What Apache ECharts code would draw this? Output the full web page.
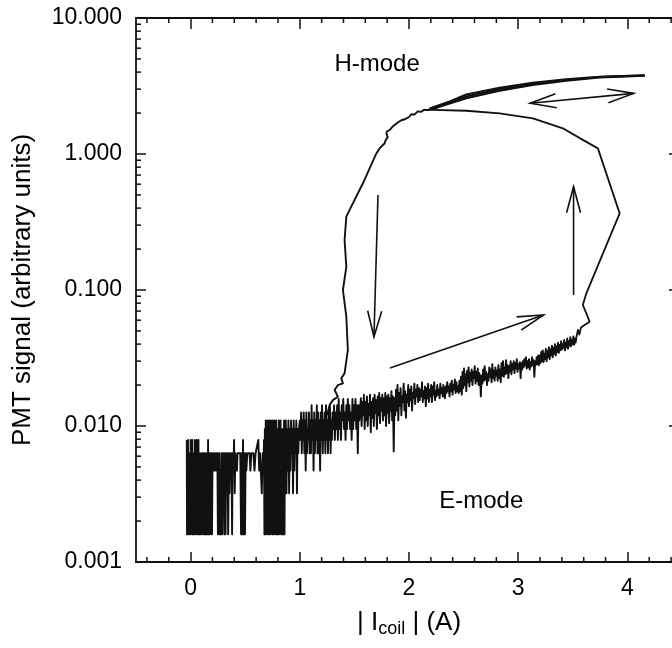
<!DOCTYPE html>
<html>
<head>
<meta charset="utf-8">
<script src="https://cdn.jsdelivr.net/npm/echarts@6/dist/echarts.min.js"></script>
<style>
  html, body { margin: 0; padding: 0; background: #fff; overflow: hidden; }
  #chart { width: 672px; height: 648px; }
</style>
</head>
<body>
<div id="chart"></div>
<script>
// Axis ticks
const xMajorTicks = [0, 1, 2, 3, 4];
const xMinorTicks = [-0.4, -0.2, 0.2, 0.4, 0.6, 0.8, 1.2, 1.4, 1.6, 1.8, 2.2, 2.4, 2.6, 2.8, 3.2, 3.4, 3.6, 3.8, 4.2, 4.4];
const yMajorTicks = [0.001, 0.01, 0.1, 1, 10];
const yMinorTicks = [0.002, 0.003, 0.004, 0.005, 0.006, 0.007, 0.008, 0.009,
                     0.02, 0.03, 0.04, 0.05, 0.06, 0.07, 0.08, 0.09,
                     0.2, 0.3, 0.4, 0.5, 0.6, 0.7, 0.8, 0.9,
                     2, 3, 4, 5, 6, 7, 8, 9];

// E-mode signal while the coil current ramps up: [|Icoil| (A), PMT signal]
const eModeTrace = [
  [-0.035,0.0079],[-0.033,0.0016],[-0.030,0.0063],[-0.027,0.0016],[-0.024,0.0079],[-0.020,0.0016],[-0.016,0.0047],[-0.012,0.0016],
  [-0.008,0.0063],[-0.004,0.0016],[0.000,0.0079],[0.004,0.0032],[0.008,0.0063],[0.012,0.0016],[0.016,0.0079],[0.020,0.0016],
  [0.024,0.0047],[0.028,0.0016],[0.032,0.0063],[0.036,0.0016],[0.040,0.0079],[0.044,0.0016],[0.048,0.0063],[0.052,0.0032],
  [0.056,0.0079],[0.060,0.0016],[0.064,0.0063],[0.068,0.0016],[0.072,0.0079],[0.076,0.0016],[0.080,0.0063],[0.084,0.0016],
  [0.088,0.0047],[0.092,0.0016],[0.096,0.0063],[0.100,0.0016],[0.104,0.0063],[0.108,0.0032],[0.112,0.0063],[0.116,0.0016],
  [0.120,0.0063],[0.124,0.0016],[0.128,0.0063],[0.132,0.0016],[0.136,0.0047],[0.140,0.0016],[0.144,0.0063],[0.148,0.0016],
  [0.152,0.0063],[0.156,0.0016],[0.160,0.0079],[0.164,0.0016],[0.168,0.0063],[0.172,0.0016],[0.176,0.0063],[0.180,0.0032],
  [0.184,0.0063],[0.188,0.0016],[0.192,0.0063],[0.196,0.0016],[0.200,0.0047],
  [0.205,0.0063],[0.212,0.0047],[0.218,0.0063],[0.225,0.0047],[0.232,0.0063],[0.240,0.0047],[0.245,0.0063],
  [0.250,0.0016],[0.255,0.0063],[0.260,0.0016],[0.265,0.0063],[0.270,0.0016],[0.275,0.0047],[0.280,0.0016],[0.285,0.0063],
  [0.290,0.0016],[0.295,0.0063],[0.300,0.0032],[0.305,0.0063],[0.310,0.0016],[0.315,0.0063],[0.320,0.0016],[0.326,0.0063],
  [0.332,0.0047],[0.338,0.0063],[0.344,0.0016],[0.350,0.0063],[0.356,0.0032],[0.362,0.0063],[0.368,0.0047],[0.374,0.0063],
  [0.380,0.0016],
  [0.385,0.0063],[0.392,0.0047],[0.398,0.0079],[0.404,0.0032],[0.410,0.0063],[0.418,0.0063],[0.424,0.0047],[0.430,0.0063],
  [0.440,0.0063],[0.455,0.0063],[0.462,0.0016],[0.468,0.0063],[0.474,0.0016],[0.480,0.0079],[0.486,0.0016],[0.492,0.0063],
  [0.498,0.0016],[0.504,0.0063],[0.510,0.0047],[0.520,0.0063],[0.540,0.0063],[0.548,0.0047],[0.556,0.0063],[0.575,0.0063],
  [0.585,0.0047],[0.595,0.0063],[0.610,0.0063],[0.620,0.0079],[0.628,0.0047],[0.636,0.0063],[0.645,0.0063],[0.652,0.0032],
  [0.660,0.0063],[0.668,0.0047],
  [0.672,0.0079],[0.676,0.0016],[0.680,0.0095],[0.684,0.0016],[0.688,0.0110],[0.692,0.0016],[0.696,0.0095],[0.700,0.0032],
  [0.704,0.0110],[0.708,0.0016],[0.712,0.0095],[0.716,0.0016],[0.720,0.0110],[0.724,0.0016],[0.728,0.0079],[0.732,0.0016],
  [0.736,0.0110],[0.740,0.0032],[0.744,0.0095],[0.748,0.0016],[0.752,0.0110],[0.756,0.0016],[0.760,0.0095],[0.764,0.0016],
  [0.768,0.0110],[0.772,0.0047],[0.776,0.0095],[0.780,0.0016],[0.784,0.0110],[0.788,0.0016],[0.792,0.0079],[0.796,0.0016],
  [0.800,0.0095],[0.804,0.0016],[0.808,0.0110],[0.812,0.0016],[0.816,0.0095],[0.820,0.0032],[0.824,0.0110],[0.828,0.0016],
  [0.832,0.0095],[0.836,0.0016],[0.840,0.0079],[0.844,0.0016],[0.848,0.0095],[0.852,0.0016],[0.856,0.0110],[0.860,0.0016],
  [0.864,0.0095],[0.868,0.0032],
  [0.872,0.0110],[0.878,0.0032],[0.884,0.0095],[0.890,0.0047],[0.896,0.0110],[0.902,0.0032],[0.908,0.0095],[0.914,0.0047],
  [0.920,0.0110],[0.926,0.0063],[0.932,0.0095],[0.938,0.0032],[0.944,0.0110],[0.950,0.0047],[0.956,0.0095],[0.962,0.0063],
  [0.968,0.0110],[0.974,0.0032],[0.980,0.0095],[0.986,0.0063],[0.992,0.0095],
  [1.000,0.0110],[1.006,0.0079],[1.012,0.0126],[1.018,0.0063],[1.024,0.0110],[1.030,0.0079],[1.036,0.0126],[1.042,0.0063],
  [1.048,0.0110],[1.054,0.0047],[1.060,0.0126],[1.066,0.0063],[1.072,0.0095],[1.078,0.0079],[1.084,0.0126],[1.090,0.0063],
  [1.096,0.0110],[1.102,0.0063],[1.108,0.0142],[1.114,0.0079],[1.120,0.0110],[1.126,0.0047],[1.132,0.0126],[1.138,0.0063],
  [1.144,0.0110],[1.150,0.0079],[1.156,0.0142],[1.162,0.0063],[1.168,0.0126],[1.174,0.0063],[1.180,0.0110],[1.186,0.0047],
  [1.192,0.0126],[1.198,0.0079],[1.204,0.0142],[1.210,0.0063],[1.216,0.0110],[1.222,0.0079],[1.228,0.0126],[1.234,0.0063],
  [1.240,0.0142],[1.246,0.0079],[1.252,0.0110],[1.258,0.0063],[1.264,0.0126],[1.270,0.0079],[1.276,0.0142],[1.282,0.0063],
  [1.288,0.0110],[1.294,0.0079],
  [1.300,0.0126],[1.307,0.0095],[1.314,0.0142],[1.321,0.0079],[1.328,0.0126],[1.335,0.0095],[1.342,0.0142],[1.349,0.0079],
  [1.356,0.0158],[1.363,0.0095],[1.370,0.0126],[1.377,0.0079],[1.384,0.0142],[1.391,0.0110],[1.398,0.0158],[1.405,0.0095],
  [1.412,0.0126],[1.419,0.0079],[1.426,0.0142],[1.433,0.0095],[1.440,0.0158],[1.447,0.0110],[1.454,0.0142],[1.461,0.0095],
  [1.468,0.0126],[1.475,0.0079],[1.482,0.0158],[1.489,0.0095],[1.496,0.0142],[1.503,0.0110],[1.510,0.0158],[1.517,0.0095],
  [1.524,0.0142],[1.531,0.0063],[1.538,0.0142],[1.545,0.0110],
  [1.552,0.0110],[1.559,0.0160],[1.566,0.0100],[1.573,0.0150],[1.580,0.0120],[1.587,0.0170],[1.594,0.0095],[1.601,0.0150],
  [1.608,0.0110],[1.615,0.0165],[1.622,0.0100],[1.629,0.0145],[1.636,0.0120],[1.643,0.0170],[1.650,0.0090],[1.657,0.0150],
  [1.664,0.0115],[1.671,0.0160],[1.678,0.0100],[1.685,0.0170],[1.692,0.0125],[1.699,0.0155],[1.706,0.0095],[1.713,0.0165],
  [1.720,0.0120],[1.727,0.0175],[1.734,0.0105],[1.741,0.0160],[1.748,0.0130],[1.755,0.0170],[1.762,0.0110],[1.769,0.0160],
  [1.776,0.0120],[1.783,0.0175],[1.790,0.0100],[1.797,0.0165],[1.804,0.0125],[1.811,0.0170],[1.818,0.0105],[1.825,0.0160],
  [1.832,0.0130],[1.839,0.0180],[1.846,0.0110],[1.853,0.0165],[1.860,0.0065],[1.867,0.0160],
  [1.874,0.0120],[1.881,0.0185],[1.888,0.0130],[1.895,0.0200],[1.902,0.0110],[1.909,0.0175],[1.916,0.0140],[1.923,0.0190],
  [1.930,0.0120],[1.937,0.0165],[1.944,0.0150],[1.951,0.0205],[1.958,0.0130],[1.965,0.0180],[1.972,0.0115],[1.979,0.0170],
  [1.986,0.0150],[1.993,0.0200],[2.000,0.0140],[2.007,0.0185],[2.014,0.0155],[2.021,0.0195],[2.028,0.0130],[2.035,0.0175],
  [2.042,0.0160],[2.049,0.0205],[2.056,0.0145],[2.063,0.0185],[2.070,0.0165],[2.077,0.0200],[2.084,0.0150],[2.091,0.0190],
  [2.098,0.0155],[2.105,0.0185],[2.112,0.0165],[2.119,0.0210],[2.126,0.0150],[2.133,0.0180],[2.140,0.0160],[2.147,0.0195],
  [2.154,0.0140],[2.161,0.0190],[2.168,0.0160],[2.175,0.0205],[2.182,0.0150],[2.189,0.0185],[2.196,0.0165],[2.203,0.0200],
  [2.210,0.0150],[2.217,0.0195],[2.224,0.0170],[2.231,0.0210],[2.238,0.0155],[2.245,0.0180],[2.252,0.0165],[2.259,0.0200],
  [2.266,0.0170],[2.273,0.0185],[2.280,0.0160],[2.287,0.0205],[2.294,0.0175],[2.301,0.0190],[2.308,0.0165],[2.315,0.0200],
  [2.322,0.0170],[2.329,0.0160],[2.336,0.0195],[2.343,0.0175],[2.350,0.0210],[2.357,0.0180],[2.364,0.0195],[2.371,0.0165],
  [2.378,0.0205],[2.385,0.0180],[2.392,0.0215],[2.399,0.0170],[2.406,0.0200],[2.413,0.0185],[2.420,0.0220],[2.427,0.0175],
  [2.434,0.0210],[2.441,0.0180],[2.448,0.0195],
  [2.455,0.0175],[2.462,0.0215],[2.469,0.0180],[2.476,0.0230],[2.483,0.0170],[2.490,0.0250],[2.497,0.0190],[2.504,0.0265],
  [2.511,0.0200],[2.518,0.0240],[2.525,0.0180],[2.532,0.0255],[2.539,0.0210],[2.546,0.0270],[2.553,0.0195],[2.560,0.0245],
  [2.567,0.0215],[2.574,0.0260],[2.581,0.0200],[2.588,0.0250],[2.595,0.0225],[2.602,0.0275],[2.609,0.0205],[2.616,0.0250],
  [2.623,0.0215],[2.630,0.0265],[2.637,0.0200],[2.644,0.0245],[2.651,0.0225],[2.658,0.0165],[2.665,0.0235],[2.672,0.0205],
  [2.679,0.0260],[2.686,0.0215],[2.693,0.0275],[2.700,0.0220],[2.707,0.0250],[2.714,0.0200],[2.721,0.0240],[2.728,0.0215],
  [2.735,0.0270],[2.742,0.0230],[2.749,0.0260],[2.756,0.0210],[2.763,0.0285],[2.770,0.0225],[2.777,0.0255],[2.784,0.0215],
  [2.791,0.0270],[2.798,0.0235],
  [2.805,0.0255],[2.812,0.0215],[2.819,0.0280],[2.826,0.0225],[2.833,0.0260],[2.840,0.0210],[2.847,0.0290],[2.854,0.0235],
  [2.861,0.0300],[2.868,0.0230],[2.875,0.0270],[2.882,0.0240],[2.889,0.0305],[2.896,0.0245],[2.903,0.0280],[2.910,0.0225],
  [2.917,0.0275],[2.924,0.0250],[2.931,0.0300],[2.938,0.0240],[2.945,0.0285],[2.952,0.0260],[2.959,0.0300],[2.966,0.0245],
  [2.973,0.0290],[2.980,0.0265],[2.987,0.0310],[2.994,0.0250],[3.001,0.0285],[3.008,0.0265],[3.015,0.0295],[3.022,0.0225],
  [3.029,0.0290],[3.036,0.0260],[3.043,0.0300],[3.050,0.0270],[3.057,0.0310],[3.064,0.0280],[3.071,0.0320],[3.078,0.0265],
  [3.085,0.0300],[3.092,0.0270],[3.099,0.0310],[3.106,0.0260],[3.113,0.0295],[3.120,0.0275],[3.127,0.0320],[3.134,0.0280],
  [3.141,0.0305],[3.148,0.0230],[3.155,0.0300],[3.162,0.0280],[3.169,0.0320],[3.176,0.0285],[3.183,0.0330],[3.190,0.0280],
  [3.197,0.0330],[3.204,0.0290],[3.211,0.0350],[3.218,0.0300],[3.225,0.0360],[3.232,0.0295],[3.239,0.0340],[3.246,0.0310],
  [3.253,0.0370],[3.260,0.0300],[3.267,0.0355],[3.274,0.0320],[3.281,0.0380],[3.288,0.0310],[3.295,0.0365],[3.302,0.0330],
  [3.309,0.0390],[3.316,0.0320],[3.323,0.0375],[3.330,0.0340],[3.337,0.0400],[3.344,0.0330],[3.351,0.0385],[3.358,0.0350],
  [3.365,0.0410],[3.372,0.0345],[3.379,0.0395],[3.386,0.0360],[3.393,0.0420],[3.400,0.0365],[3.407,0.0400],[3.414,0.0375],
  [3.421,0.0430],[3.428,0.0360],[3.435,0.0410],[3.442,0.0380],[3.449,0.0440],[3.456,0.0370],[3.463,0.0420],[3.470,0.0390],
  [3.477,0.0450],[3.484,0.0385],[3.491,0.0430],[3.498,0.0400],[3.505,0.0455],[3.512,0.0395],[3.519,0.0440],[3.526,0.0410],
  [3.533,0.0450]
];

// E -> H transition and the upper return curve
const transitionTrace = [
  [3.533,0.0450],[3.547,0.0508],[3.560,0.0470],[3.575,0.0530],[3.608,0.0553],[3.654,0.0585],[3.624,0.0674],[3.592,0.0776],
  [3.624,0.0946],[3.929,0.366],[3.730,1.10],[3.592,1.27],[3.409,1.545],[3.135,1.83],[2.830,1.99],[2.525,2.08],
  [2.219,2.11],[2.143,2.11]
];

// H-mode branch, traced several times (outer, middle and inner passes)
const hBranchOuter = [[2.189,2.16],[2.372,2.43],[2.525,2.74],[2.830,3.07],[3.132,3.34],[3.440,3.54],[3.745,3.70],[4.158,3.79]];
const hBranchMid   = [[2.200,2.15],[2.372,2.39],[2.525,2.65],[2.830,2.99],[3.132,3.28],[3.440,3.50],[3.745,3.68],[4.158,3.78]];
const hBranchInner = [[2.216,2.14],[2.372,2.35],[2.525,2.57],[2.830,2.92],[3.132,3.22],[3.440,3.46],[3.745,3.66],[4.158,3.76]];

// H -> E collapse while the current ramps down
const collapseTrace = [
  [2.30,2.26],[2.26,2.22],[2.235,2.16],[2.20,2.15],[2.17,2.10],[2.14,2.12],[2.11,2.04],[2.08,2.06],[2.05,1.95],[2.02,1.96],
  [2.00,1.87],[1.96,1.80],[1.93,1.77],[1.90,1.71],[1.884,1.68],[1.85,1.59],[1.822,1.50],[1.80,1.47],[1.792,1.42],[1.805,1.33],
  [1.785,1.26],[1.777,1.20],[1.731,1.10],[1.701,1.01],[1.578,0.609],[1.456,0.388],[1.426,0.346],[1.410,0.233],[1.426,0.148],
  [1.395,0.100],[1.426,0.0636],[1.440,0.0362],[1.410,0.0244],[1.380,0.0224],[1.395,0.0206],[1.349,0.0200],[1.319,0.0184],
  [1.349,0.0164],[1.303,0.0155],[1.273,0.0143],[1.25,0.0120]
];

// Direction arrows: [x start, y start, x end, y end, double-headed]
const arrowSegments = [
  [1.716, 0.50, 1.679, 0.0451, 0],
  [1.826, 0.0267, 3.232, 0.0655, 0],
  [3.507, 0.0919, 3.507, 0.575, 0],
  [3.110, 2.36, 4.058, 2.79, 1]
];

// Mode annotations: [x, y, text]
const modeLabels = [
  [1.708, 4.59, 'H-mode'],
  [2.662, 0.00277, 'E-mode']
];

const FONT = '"Liberation Sans", Arial, Helvetica, sans-serif';
const INK = '#111';

function arrowItem(params, api) {
  const a = api.coord([api.value(0), api.value(1)]);
  const b = api.coord([api.value(2), api.value(3)]);
  const both = api.value(4) === 1;
  const style = { stroke: INK, lineWidth: 1.6, fill: null };
  const head = (tip, from) => {
    const dx = from[0] - tip[0], dy = from[1] - tip[1];
    const len = Math.hypot(dx, dy) || 1;
    const ux = dx / len, uy = dy / len;
    const L = 27, ang = 15 * Math.PI / 180;
    const c = Math.cos(ang), s = Math.sin(ang);
    const w1 = [tip[0] + L * (ux * c - uy * s), tip[1] + L * (ux * s + uy * c)];
    const w2 = [tip[0] + L * (ux * c + uy * s), tip[1] + L * (-ux * s + uy * c)];
    return { type: 'polyline', shape: { points: [w1, tip, w2] }, style: style };
  };
  const children = [
    { type: 'line', shape: { x1: a[0], y1: a[1], x2: b[0], y2: b[1] }, style: style },
    head(b, a)
  ];
  if (both) children.push(head(a, b));
  return { type: 'group', children: children };
}

function labelItem(params, api) {
  const p = api.coord([api.value(0), api.value(1)]);
  return {
    type: 'text',
    x: p[0], y: p[1],
    style: {
      text: modeLabels[params.dataIndex][2],
      fill: '#000', font: '24px ' + FONT,
      align: 'center', verticalAlign: 'middle'
    }
  };
}

// Minor ticks, drawn inward from both opposite frame edges
const TICK_STYLE = { stroke: INK, lineWidth: 1.5 };
function xMinorTickItem(params, api) {
  const cs = params.coordSys;
  const p = api.coord([api.value(0), 1]);
  return {
    type: 'group',
    children: [
      { type: 'line', shape: { x1: p[0], y1: cs.y + cs.height, x2: p[0], y2: cs.y + cs.height - 5 }, style: TICK_STYLE },
      { type: 'line', shape: { x1: p[0], y1: cs.y, x2: p[0], y2: cs.y + 5 }, style: TICK_STYLE }
    ]
  };
}
function yMinorTickItem(params, api) {
  const cs = params.coordSys;
  const p = api.coord([0, api.value(1)]);
  return {
    type: 'group',
    children: [
      { type: 'line', shape: { x1: cs.x, y1: p[1], x2: cs.x + 5, y2: p[1] }, style: TICK_STYLE },
      { type: 'line', shape: { x1: cs.x + cs.width, y1: p[1], x2: cs.x + cs.width - 5, y2: p[1] }, style: TICK_STYLE }
    ]
  };
}

function lineSeries(data, width) {
  return {
    type: 'line', xAxisIndex: 0, yAxisIndex: 0, data: data,
    showSymbol: false, symbol: 'none', silent: true,
    lineStyle: { color: INK, width: width, join: 'round' },
    z: 3
  };
}

const axisLine = { show: true, onZero: false, lineStyle: { color: INK, width: 1.8 } };

function xAxisDef(position, labels, len, extra) {
  return Object.assign({
    type: 'value', position: position, min: -0.5, max: 4.5, gridIndex: 0,
    axisLine: axisLine,
    axisTick: { show: true, inside: true, length: len, customValues: xMajorTicks, lineStyle: { color: INK, width: 1.5 } },
    axisLabel: labels
      ? { show: true, customValues: xMajorTicks, fontSize: 23, color: '#000', fontFamily: FONT, margin: 15 }
      : { show: false },
    splitLine: { show: false }
  }, extra || {});
}

function yAxisDef(position, labels, len, extra) {
  return Object.assign({
    type: 'log', logBase: 10, position: position, min: 0.001, max: 10, gridIndex: 0,
    axisLine: axisLine,
    axisTick: { show: true, inside: true, length: len, customValues: yMajorTicks, lineStyle: { color: INK, width: 1.5 } },
    axisLabel: labels
      ? { show: true, customValues: yMajorTicks, fontSize: 23, color: '#000', fontFamily: FONT, margin: 14,
          formatter: v => Number(v).toFixed(3) }
      : { show: false },
    splitLine: { show: false },
    minorTick: { show: false }
  }, extra || {});
}

const chart = echarts.init(document.getElementById('chart'), null, { renderer: 'canvas' });

chart.setOption({
  animation: false,
  backgroundColor: '#fff',
  grid: { left: 136, top: 18, width: 546, height: 544, containLabel: false, outerBoundsMode: 'none' },
  xAxis: [
    xAxisDef('bottom', true, 10, {
      name: '| I{sub|coil} | (A)', nameLocation: 'middle', nameGap: 46,
      nameTextStyle: {
        fontSize: 26, color: '#000', fontFamily: FONT,
        rich: { sub: { fontSize: 18, color: '#000', fontFamily: FONT, padding: [12, 0, 0, 0] } }
      }
    }),
    xAxisDef('top', false, 11)
  ],
  yAxis: [
    yAxisDef('left', true, 10, {
      name: 'PMT signal (arbitrary units)', nameLocation: 'middle', nameGap: 100,
      nameTextStyle: { fontSize: 26, color: '#000', fontFamily: FONT }
    }),
    yAxisDef('right', false, 13)
  ],
  series: [
    lineSeries(eModeTrace, 1.9),
    lineSeries(transitionTrace, 1.8),
    lineSeries(collapseTrace, 1.9),
    lineSeries(hBranchOuter, 2.1),
    lineSeries(hBranchMid, 2.1),
    lineSeries(hBranchInner, 2.1),
    {
      type: 'custom', xAxisIndex: 0, yAxisIndex: 0,
      renderItem: xMinorTickItem,
      encode: { x: 0, y: 1 },
      data: xMinorTicks.map(v => [v, 1]),
      silent: true, z: 2
    },
    {
      type: 'custom', xAxisIndex: 0, yAxisIndex: 0,
      renderItem: yMinorTickItem,
      encode: { x: 0, y: 1 },
      data: yMinorTicks.map(v => [0, v]),
      silent: true, z: 2
    },
    {
      type: 'custom', xAxisIndex: 0, yAxisIndex: 0,
      renderItem: arrowItem,
      encode: { x: [0, 2], y: [1, 3] },
      data: arrowSegments,
      silent: true, z: 4
    },
    {
      type: 'custom', xAxisIndex: 0, yAxisIndex: 0,
      renderItem: labelItem,
      encode: { x: 0, y: 1 },
      data: modeLabels.map(m => [m[0], m[1]]),
      silent: true, z: 5
    }
  ]
});
</script>
</body>
</html>
